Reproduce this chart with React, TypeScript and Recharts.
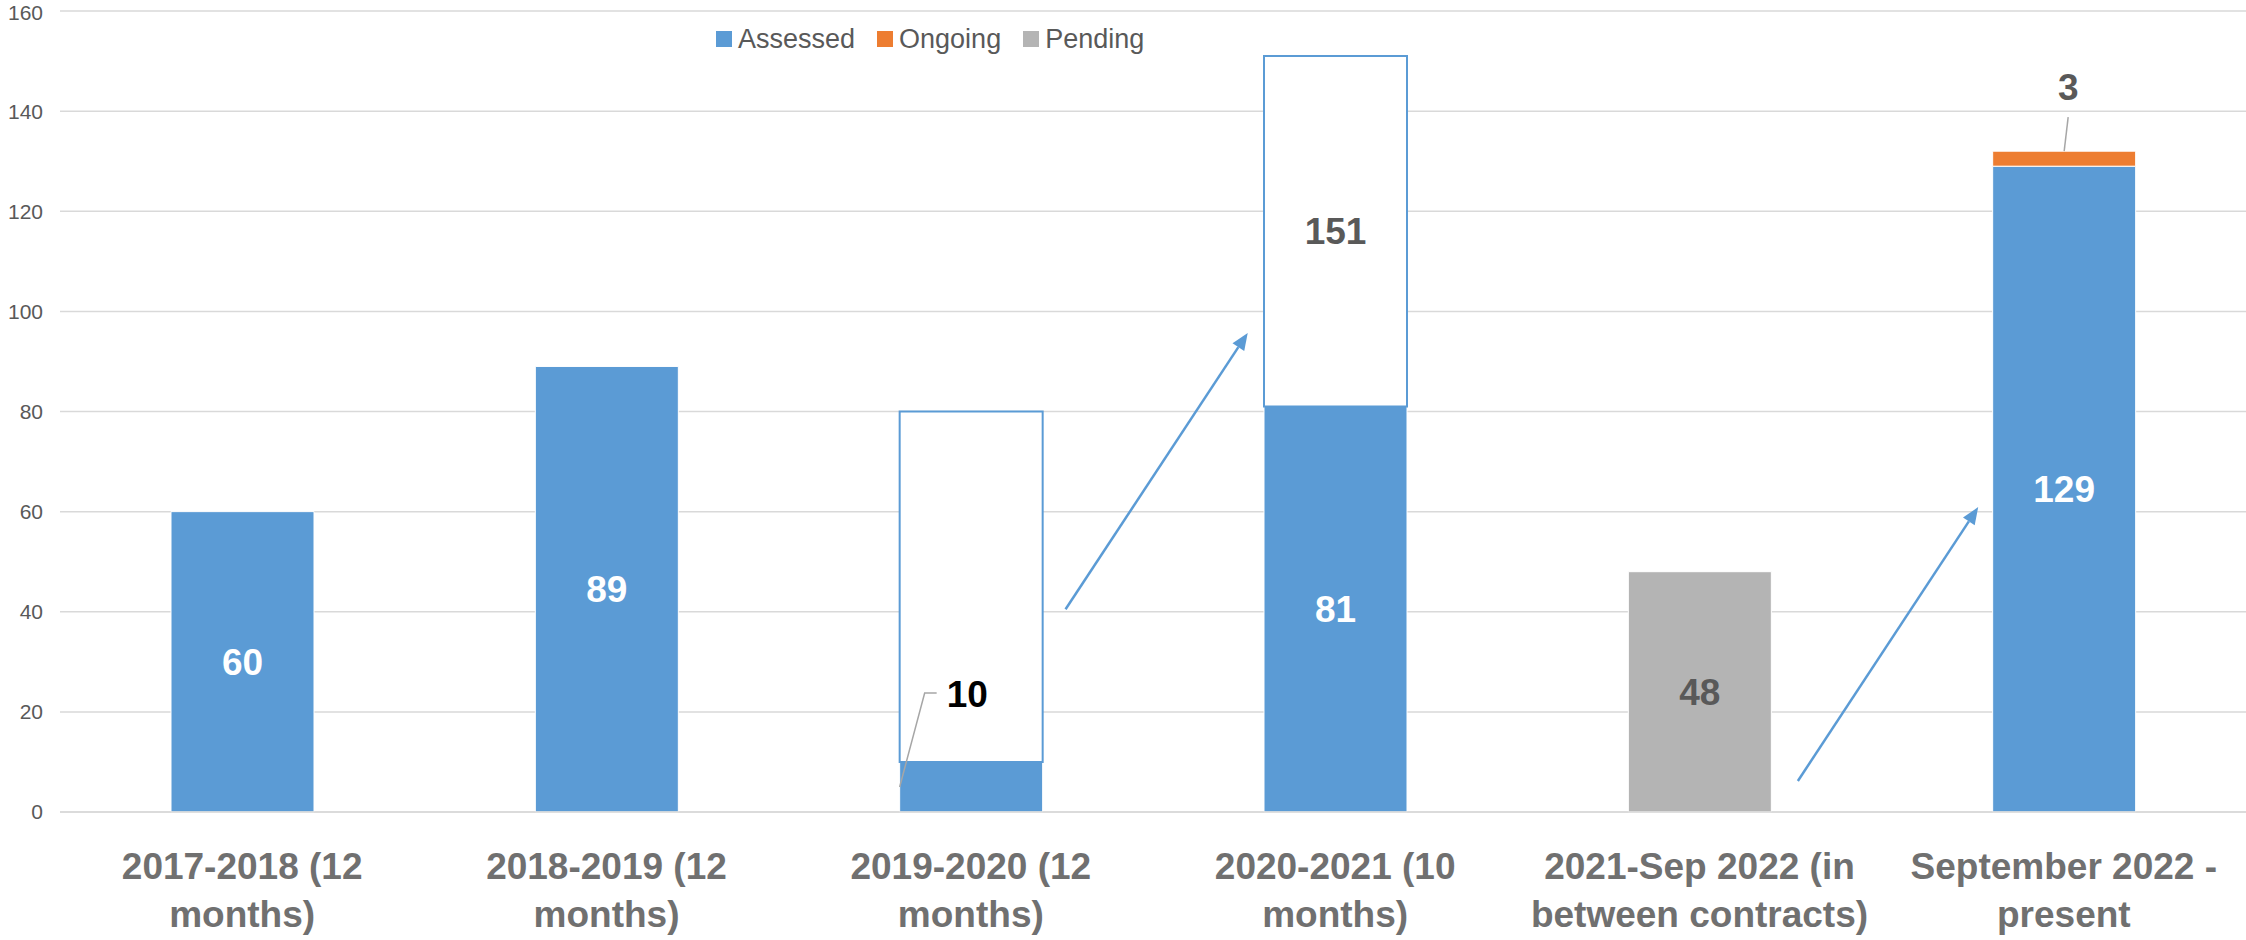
import React from "react";
import {
  BarChart,
  Bar,
  XAxis,
  YAxis,
  CartesianGrid,
  Legend,
  LabelList,
  ReferenceLine,
} from "recharts";

const categories = [
  "2017-2018 (12\nmonths)",
  "2018-2019 (12\nmonths)",
  "2019-2020 (12\nmonths)",
  "2020-2021 (10\nmonths)",
  "2021-Sep 2022 (in\nbetween contracts)",
  "September 2022 -\npresent",
];
const assessed = [60, 89, 10, 81, null, 129];
const ongoing = [null, null, null, null, null, 3];
const pending = [null, null, null, null, 48, null];
// white boxes with blue outline, stacked on top of "assessed"
const outline = [null, null, 70, 70, null, null];
const outlineTotal = [null, null, null, 151, null, null];
const yTicks = [0, 20, 40, 60, 80, 100, 120, 140, 160];

// arrows, in (category index, value) units
const arrows = [
  { from: { x: 2.26, y: 40.5 }, to: { x: 2.76, y: 95.7 } },
  { from: { x: 4.27, y: 6.2 }, to: { x: 4.765, y: 60.9 } },
];

const data = categories.map((name, i) => ({
  name,
  pos: i,
  assessed: assessed[i],
  ongoing: ongoing[i],
  pending: pending[i],
  outline: outline[i],
  outlineTotal: outlineTotal[i],
}));

const FONT = "'Liberation Sans', Arial, sans-serif";
const BLUE = "#5b9bd5";
const ORANGE = "#ed7d31";
const GREY = "#b4b4b4";
const TEXT = "#595959";

function CategoryTick({ x, y, payload }: any) {
  const lines = String(payload.value).split("\n");
  return (
    <text
      x={x}
      y={y}
      textAnchor="middle"
      fill="#707070"
      fontSize={37}
      fontWeight="bold"
      fontFamily={FONT}
    >
      {lines.map((l, i) => (
        <tspan key={i} x={x} dy={i === 0 ? 67 : 48}>
          {l}
        </tspan>
      ))}
    </text>
  );
}

function centerLabel(color: string, minValue = 0) {
  return (props: any) => {
    const { x, y, width, height, value } = props;
    if (value == null || value < minValue || !height) return null;
    return (
      <text
        x={x + width / 2}
        y={y + height / 2}
        dy={13}
        textAnchor="middle"
        fill={color}
        fontSize={37}
        fontWeight="bold"
        fontFamily={FONT}
      >
        {value}
      </text>
    );
  };
}

// small assessed value drawn with a leader line (rendered on the outline layer so it stays on top)
function SmallAssessedLabel(props: any) {
  const { x, y, width, height, value } = props;
  if (value == null || value >= 15 || !height) return null;
  const sx = x;
  const sy = y + height + 25;
  const ex = x + 25;
  const ey = sy - 94;
  return (
    <g>
      <polyline
        points={`${sx},${sy} ${ex},${ey} ${ex + 12},${ey}`}
        fill="none"
        stroke="#a6a6a6"
        strokeWidth={1.5}
      />
      <text
        x={ex + 22}
        y={ey + 14}
        fill="#000"
        fontSize={37}
        fontWeight="bold"
        fontFamily={FONT}
      >
        {value}
      </text>
    </g>
  );
}

function TopLabel(props: any) {
  const { x, y, width, value } = props;
  if (value == null) return null;
  const cx = x + width / 2;
  return (
    <g>
      <line x1={cx} y1={y} x2={cx + 4} y2={y - 34} stroke="#a6a6a6" strokeWidth={1.5} />
      <text
        x={cx + 4}
        y={y - 51}
        textAnchor="middle"
        fill={TEXT}
        fontSize={37}
        fontWeight="bold"
        fontFamily={FONT}
      >
        {value}
      </text>
    </g>
  );
}

function Arrow(props: any) {
  const { x1, y1, x2, y2 } = props;
  const ang = Math.atan2(y2 - y1, x2 - x1);
  const len = 17;
  const half = 7;
  const bx = x2 - len * Math.cos(ang);
  const by = y2 - len * Math.sin(ang);
  const px = -Math.sin(ang) * half;
  const py = Math.cos(ang) * half;
  return (
    <g>
      <line x1={x1} y1={y1} x2={bx} y2={by} stroke={BLUE} strokeWidth={2.5} />
      <polygon
        points={`${x2},${y2} ${bx + px},${by + py} ${bx - px},${by - py}`}
        fill={BLUE}
      />
    </g>
  );
}

function LegendContent({ payload }: any) {
  const items = (payload || []).filter((p: any) => p.dataKey !== "outline");
  return (
    <div style={{ display: "flex", alignItems: "center", fontFamily: FONT }}>
      {items.map((p: any) => (
        <div
          key={p.value}
          style={{ display: "flex", alignItems: "center", marginRight: 22 }}
        >
          <span
            style={{
              display: "inline-block",
              width: 16,
              height: 16,
              background: p.color,
              marginRight: 6,
            }}
          />
          <span style={{ fontSize: 27, color: TEXT, lineHeight: "32px" }}>
            {p.value}
          </span>
        </div>
      ))}
    </div>
  );
}

export default function App() {
  if (typeof document !== "undefined") document.body.style.margin = "0";
  return (
    <div style={{ width: 2246, height: 940, background: "#fff" }}>
      <BarChart
        width={2246}
        height={940}
        data={data}
        margin={{ top: 11, right: 0, left: 0, bottom: 0 }}
        barSize={143}
      >
        <CartesianGrid vertical={false} stroke="#d9d9d9" strokeWidth={1.5} />
        <XAxis
          dataKey="name"
          interval={0}
          height={128}
          tickLine={false}
          tickSize={0}
          tickMargin={0}
          axisLine={{ stroke: "#d9d9d9", strokeWidth: 1.5 }}
          tick={<CategoryTick />}
        />
        <XAxis
          xAxisId="pos"
          dataKey="pos"
          type="number"
          domain={[-0.5, 5.5]}
          allowDataOverflow
          hide
        />
        <YAxis
          width={60}
          domain={[0, 160]}
          ticks={yTicks}
          axisLine={false}
          tickLine={false}
          tickSize={0}
          tickMargin={17}
          tick={{ fontSize: 21, fill: TEXT, fontFamily: FONT }}
        />
        <Legend
          verticalAlign="middle"
          align="center"
          content={<LegendContent />}
          wrapperStyle={{ top: 23, left: 716, width: 600 }}
        />
        <Bar
          dataKey="assessed"
          name="Assessed"
          stackId="a"
          fill={BLUE}
          stroke="#fff"
          strokeWidth={1}
          isAnimationActive={false}
        >
          <LabelList dataKey="assessed" content={centerLabel("#fff", 15)} />
        </Bar>
        <Bar
          dataKey="ongoing"
          name="Ongoing"
          stackId="a"
          fill={ORANGE}
          stroke="#fff"
          strokeWidth={1}
          isAnimationActive={false}
        >
          <LabelList dataKey="ongoing" content={TopLabel} />
        </Bar>
        <Bar
          dataKey="pending"
          name="Pending"
          stackId="a"
          fill={GREY}
          stroke="#fff"
          strokeWidth={1}
          isAnimationActive={false}
        >
          <LabelList dataKey="pending" content={centerLabel(TEXT)} />
        </Bar>
        <Bar
          dataKey="outline"
          stackId="a"
          fill="#fff"
          stroke={BLUE}
          strokeWidth={2}
          legendType="none"
          isAnimationActive={false}
        >
          <LabelList dataKey="outlineTotal" content={centerLabel(TEXT)} />
          <LabelList dataKey="assessed" content={SmallAssessedLabel} />
        </Bar>
        {arrows.map((a, i) => (
          <ReferenceLine
            key={i}
            xAxisId="pos"
            segment={[a.from, a.to]}
            shape={Arrow}
            ifOverflow="visible"
          />
        ))}
      </BarChart>
    </div>
  );
}
